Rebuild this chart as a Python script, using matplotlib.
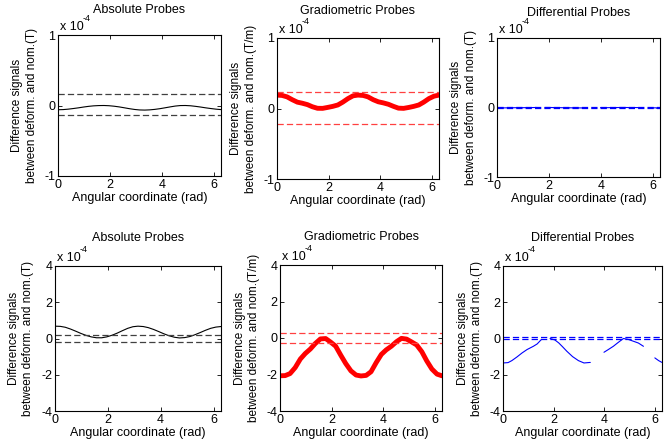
import numpy as np
import matplotlib
matplotlib.use("Agg")
import matplotlib.pyplot as plt

plt.rcParams['font.family'] = ['Liberation Sans', 'DejaVu Sans']
plt.rcParams['font.size'] = 9
plt.rcParams['axes.unicode_minus'] = False

nan = np.nan

# angular grid (rad) used for absolute / gradiometric curves
theta = [0.00, 0.20, 0.39, 0.59, 0.79, 0.98, 1.18, 1.37, 1.57, 1.77, 1.96,
         2.16, 2.36, 2.55, 2.75, 2.95, 3.14, 3.34, 3.53, 3.73, 3.93, 4.12,
         4.32, 4.52, 4.71, 4.91, 5.11, 5.30, 5.50, 5.69, 5.89, 6.09, 6.28]

# differential probes: curve has gaps (nan)
theta_diff = [0.00, 0.20, 0.35, 0.55, 0.75, 0.95, 1.20, 1.35, 1.52, nan,
              1.86, 2.05, 2.20, 2.35, 2.52, 2.75, 2.98, 3.20, 3.45, nan,
              3.99, 4.15, 4.36, 4.55, 4.76, 4.95, 5.15, 5.35, 5.55, nan,
              6.00, 6.15, 6.28]

# values in units of 1e-4
abs_top = [-0.060, -0.058, -0.052, -0.043, -0.033, -0.022, -0.012, -0.005, -0.001,
           0.000, -0.003, -0.010, -0.020, -0.032, -0.045, -0.056, -0.063, -0.065,
           -0.062, -0.055, -0.045, -0.033, -0.020, -0.008, -0.001, 0.000, -0.004,
           -0.012, -0.022, -0.033, -0.043, -0.052, -0.058]
grad_top = [0.190, 0.185, 0.165, 0.125, 0.090, 0.075, 0.055, 0.025, 0.003, 0.002,
            0.015, 0.030, 0.050, 0.090, 0.140, 0.180, 0.190, 0.185, 0.165, 0.125,
            0.095, 0.080, 0.060, 0.030, 0.005, 0.002, 0.015, 0.030, 0.050, 0.090,
            0.140, 0.175, 0.190]
diff_top = [-0.006, -0.006, -0.005, -0.004, -0.003, -0.003, -0.002, -0.001, 0.000, nan,
            0.000, 0.000, -0.001, -0.002, -0.003, -0.004, -0.005, -0.006, -0.006, nan,
            -0.003, -0.003, -0.002, -0.001, 0.000, 0.000, -0.001, -0.001, -0.002, nan,
            -0.005, -0.005, -0.006]

abs_bot = [0.68, 0.67, 0.62, 0.52, 0.40, 0.28, 0.17, 0.09, 0.04, 0.04, 0.09,
           0.18, 0.30, 0.43, 0.56, 0.65, 0.68, 0.66, 0.60, 0.50, 0.38, 0.26,
           0.15, 0.07, 0.03, 0.05, 0.11, 0.21, 0.33, 0.45, 0.56, 0.63, 0.66]
grad_bot = [-2.07, -2.06, -1.95, -1.62, -1.15, -0.85, -0.60, -0.30, -0.05, -0.03,
            -0.22, -0.45, -0.95, -1.40, -1.80, -2.03, -2.08, -2.05, -1.85, -1.35,
            -0.90, -0.65, -0.45, -0.20, -0.02, -0.06, -0.22, -0.38, -0.75, -1.25,
            -1.70, -1.98, -2.07]
diff_bot = [-1.35, -1.33, -1.22, -1.02, -0.80, -0.61, -0.43, -0.30, -0.05, nan,
            0.00, -0.08, -0.24, -0.45, -0.70, -1.00, -1.22, -1.35, -1.32, nan,
            -0.76, -0.62, -0.43, -0.22, 0.00, -0.05, -0.15, -0.25, -0.43, nan,
            -1.07, -1.22, -1.32]

# tolerance bands (upper, lower), units of 1e-4
band_abs_top = [0.16, -0.14]
band_grad_top = [0.23, -0.22]
band_diff_top = [0.006, -0.004]
band_abs_bot = [0.20, -0.17]
band_grad_bot = [0.28, -0.25]
band_diff_bot = [0.08, -0.04]

titles = ["Absolute Probes", "Gradiometric Probes", "Differential Probes"]
ylab_T = "Difference signals\nbetween deform. and nom.(T)"
ylab_Tm = "Difference signals\nbetween deform. and nom.(T/m)"
xlab = "Angular coordinate (rad)"

W, H = 668, 441
# axes boxes in pixels: left, top, right, bottom
boxes = [(58, 35, 221, 176), (277, 38, 439, 179), (497, 38, 660, 177),
         (55, 266, 221, 411), (280, 265, 442, 411), (503, 266, 662, 411)]

fig = plt.figure(figsize=(W / 100, H / 100), dpi=100)

panels = [
    (theta, abs_top, band_abs_top, 'k', 0.8, 1, ylab_T, 0, 16),
    (theta, grad_top, band_grad_top, 'r', 3.5, 1, ylab_Tm, 1, 17),
    (theta_diff, diff_top, band_diff_top, 'b', 0.8, 1, ylab_T, 2, 16),
    (theta, abs_bot, band_abs_bot, 'k', 0.8, 4, ylab_T, 0, 18),
    (theta, grad_bot, band_grad_bot, 'r', 3.5, 4, ylab_Tm, 1, 18),
    (theta_diff, diff_bot, band_diff_bot, 'b', 0.8, 4, ylab_T, 2, 18),
]

for i, (x, y, band, col, lw, lim, ylab, ti, pad) in enumerate(panels):
    l, t, r, b = boxes[i]
    ax = fig.add_axes([l / W, 1 - b / H, (r - l) / W, (b - t) / H])
    ax.plot(x, y, color=col, lw=lw, solid_capstyle='round')
    dash_col = {'k': '0.25', 'r': (1, 0.25, 0.25), 'b': 'b'}[col]
    for v in band:
        ax.axhline(v, color=dash_col, lw=0.9, dashes=(5, 2.5))
    ax.set_xlim(0, 2 * np.pi)
    ax.set_ylim(-lim, lim)
    ax.set_xticks([0, 2, 4, 6])
    if lim == 1:
        ax.set_yticks([-1, 0, 1])
    else:
        ax.set_yticks([-4, -2, 0, 2, 4])
    ax.tick_params(direction='in', top=True, right=True, length=3, width=0.6, pad=2)
    for s in ax.spines.values():
        s.set_linewidth(0.8)
    ax.set_title(titles[ti], fontsize=9, pad=pad)
    ax.set_xlabel(xlab, fontsize=9, labelpad=1)
    ax.set_ylabel(ylab, fontsize=8.5, linespacing=1.25)
    ax.yaxis.set_label_coords(-0.125, 0.5)
    ax.annotate('x 10', xy=(0, 1), xycoords='axes fraction', xytext=(1.5, 1.5),
                textcoords='offset points', ha='left', va='bottom', fontsize=9)
    ax.annotate('-4', xy=(0, 1), xycoords='axes fraction', xytext=(18, 8.5),
                textcoords='offset points', ha='left', va='bottom', fontsize=6.5)

fig.savefig("out.png", dpi=100)
